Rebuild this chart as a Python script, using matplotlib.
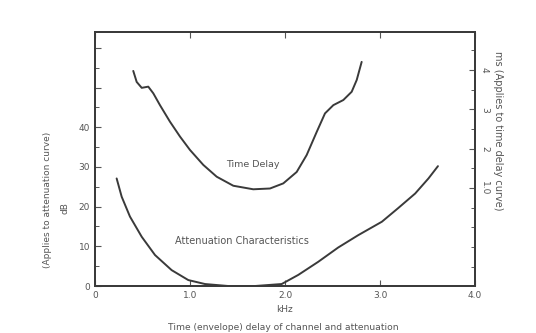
import matplotlib
matplotlib.use("Agg")
import matplotlib.pyplot as plt
import numpy as np

# Data
delay_khz = [0.403, 0.439, 0.492, 0.561, 0.614, 0.684, 0.789, 0.895, 1.000, 1.140, 1.281, 1.456,
             1.666, 1.842, 1.982, 2.123, 2.228, 2.334, 2.421, 2.509, 2.614, 2.702, 2.755, 2.807]
delay_ms = [3.98, 3.70, 3.55, 3.58, 3.41, 3.11, 2.69, 2.31, 1.97, 1.59, 1.29, 1.06,
            0.97, 0.99, 1.12, 1.41, 1.84, 2.43, 2.90, 3.11, 3.24, 3.45, 3.75, 4.21]

atten_khz = [0.228, 0.281, 0.368, 0.492, 0.632, 0.807, 0.982, 1.158, 1.403, 1.684, 1.965,
             2.14, 2.35, 2.56, 2.77, 3.02, 3.19, 3.37, 3.51, 3.61]
atten_db = [27.1, 22.5, 17.5, 12.4, 7.8, 4.0, 1.5, 0.5, 0.0, 0.0, 0.5,
            2.8, 6.1, 9.7, 12.8, 16.2, 19.6, 23.3, 27.1, 30.2]

x_ticks = [0, 1, 2, 3, 4]
x_labels = ["0", "1.0", "2.0", "3.0", "4.0"]
db_ticks = [0, 10, 20, 30, 40, 50, 60]
db_labels = ["0", "10", "20", "30", "40", "", ""]
ms_ticks = [1, 2, 3, 4]
ms_labels = ["1.0", "2", "3", "4"]

ink = "#3a3a3a"
txt = "#555555"

fig = plt.figure(figsize=(5.36, 3.33), dpi=100)
ax = fig.add_axes([0.1772, 0.1411, 0.7090, 0.7628])
ax.set_xlim(0, 4)
ax.set_ylim(0, 64)

ax.plot(atten_khz, atten_db, color=ink, lw=1.4, solid_capstyle="round", solid_joinstyle="round")

ax.set_xticks(x_ticks)
ax.set_xticklabels(x_labels)
ax.set_yticks(db_ticks)
ax.set_yticklabels(db_labels)
ax.set_yticks(np.arange(0, 65, 5), minor=True)
ax.tick_params(axis="both", direction="in", labelsize=6.5, colors=txt, length=4, width=0.8)
ax.tick_params(axis="y", which="minor", direction="in", length=3, width=0.7, colors=txt)
ax.tick_params(axis="x", top=True)
for s in ax.spines.values():
    s.set_color(ink)
    s.set_linewidth(1.3)

ax2 = ax.twinx()
ax2.set_ylim(-1.49, 4.97)
ax2.plot(delay_khz, delay_ms, color=ink, lw=1.4, solid_capstyle="round", solid_joinstyle="round")
ax2.set_yticks(ms_ticks)
ax2.set_yticklabels(ms_labels, rotation=-90, va="center")
ax2.set_yticks(np.arange(-1.0, 5.0, 0.5), minor=True)
ax2.tick_params(axis="y", direction="in", labelsize=6.5, colors=txt, length=4, width=0.8)
ax2.tick_params(axis="y", which="minor", direction="in", length=3, width=0.7, colors=txt)
for s in ax2.spines.values():
    s.set_color(ink)
    s.set_linewidth(1.3)

ax.text(1.66, 30.6, "Time Delay", fontsize=6.8, color=txt, ha="center", va="center")
ax.text(1.55, 11.4, "Attenuation Characteristics", fontsize=7, color=txt, ha="center", va="center")

ax.set_xlabel("kHz", fontsize=6.5, color=txt, labelpad=4)
fig.text(48 / 536, 1 - 200 / 333, "(Applies to attenuation curve)", rotation=90,
         fontsize=6.5, color=txt, ha="center", va="center")
fig.text(65 / 536, 1 - 208 / 333, "dB", rotation=90, fontsize=6.5, color=txt, ha="center", va="center")
fig.text(498 / 536, 1 - 131 / 333, "ms (Applies to time delay curve)", rotation=-90,
         fontsize=7, color=txt, ha="center", va="center")
fig.text(283 / 536, 1 - 327 / 333, "Time (envelope) delay of channel and attenuation",
         fontsize=6.6, color=txt, ha="center", va="center")

fig.savefig("out.png", dpi=100, facecolor="white")
